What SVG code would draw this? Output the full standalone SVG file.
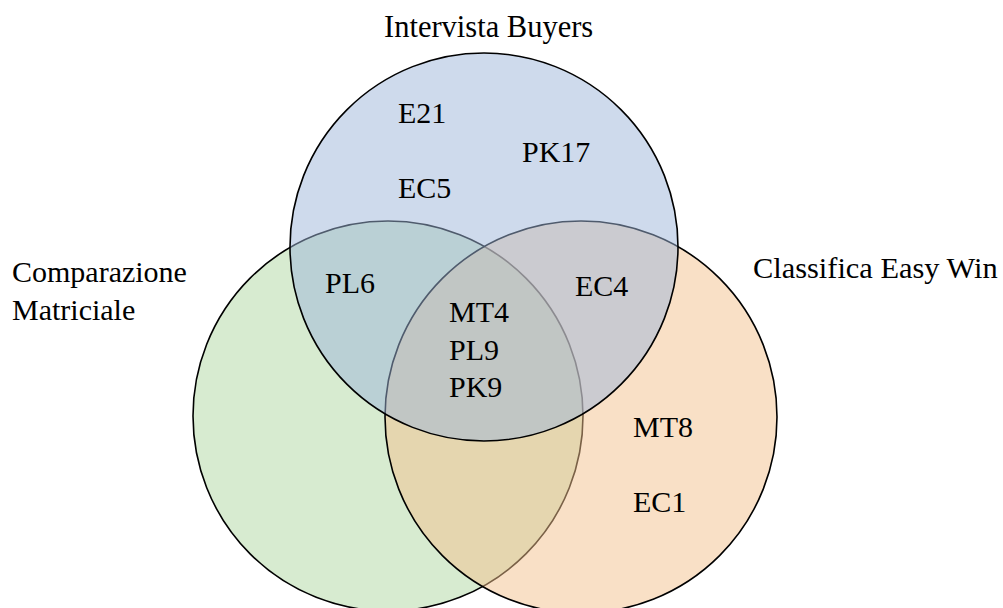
<svg xmlns="http://www.w3.org/2000/svg" width="1003" height="608" viewBox="0 0 1003 608">
  <style>
    .set { stroke: #000; stroke-width: 1.6; fill-opacity: 0.5; }
  </style>
  <rect width="1003" height="608" fill="#fff"/>
  <!-- sets: drawn bottom to top so later fills tint earlier outlines -->
  <g id="set-comparazione">
    <circle class="set" cx="388" cy="416" r="195" fill="#afd7a1"/>
  </g>
  <g id="set-classifica">
    <circle class="set" cx="581" cy="417" r="196" fill="#f3c18d"/>
  </g>
  <g id="set-intervista">
    <circle class="set" cx="484" cy="247" r="194" fill="#9db5da"/>
  </g>
  <g font-family="'Liberation Serif', 'DejaVu Serif', serif" font-size="30" fill="#000">
    <!-- set titles -->
    <g id="titles">
      <text x="384" y="37" font-size="30.5">Intervista Buyers</text>
      <text x="12" y="282">Comparazione</text>
      <text x="12" y="320">Matriciale</text>
      <text x="753" y="278" font-size="30.4">Classifica Easy Win</text>
    </g>
    <!-- region members -->
    <g id="members">
      <text x="398" y="123">E21</text>
      <text x="522" y="162">PK17</text>
      <text x="398" y="198">EC5</text>
      <text x="325" y="293">PL6</text>
      <text x="575" y="296">EC4</text>
      <text x="449" y="322">MT4</text>
      <text x="449" y="360">PL9</text>
      <text x="449" y="397">PK9</text>
      <text x="633" y="437">MT8</text>
      <text x="633" y="512">EC1</text>
    </g>
  </g>
</svg>
